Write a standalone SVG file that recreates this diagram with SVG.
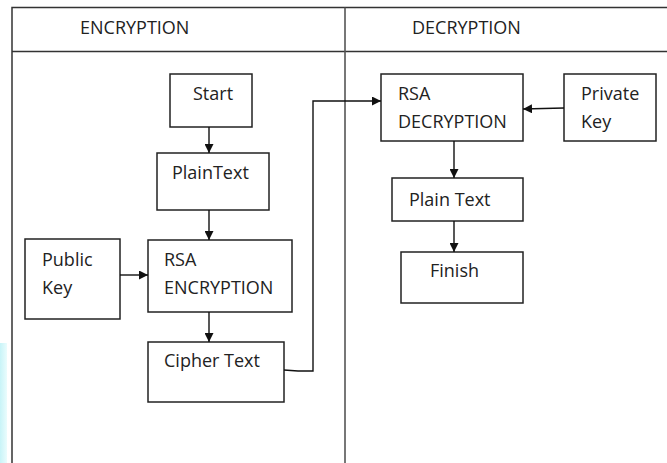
<svg xmlns="http://www.w3.org/2000/svg" width="667" height="463" viewBox="0 0 667 463">
<defs>
<style>
.frame{fill:none;stroke:#333;stroke-width:1.5}
.div{fill:none;stroke:#555;stroke-width:1.6}
.box{fill:#fff;stroke:#222;stroke-width:1.5}
.conn{fill:none;stroke:#111;stroke-width:1.4}
text{font-family:"Open Sans","Liberation Sans",sans-serif;font-size:18px;fill:#222}
</style>
<marker id="ah" viewBox="0 0 10 10" refX="10" refY="5" markerWidth="9" markerHeight="9" markerUnits="userSpaceOnUse" orient="auto">
<path d="M0,0 L10,5 L0,10 Z" fill="#111"/>
</marker>
<linearGradient id="cy" x1="0" y1="0" x2="1" y2="0">
<stop offset="0" stop-color="#c8f4f8"/>
<stop offset="1" stop-color="#eafcfd"/>
</linearGradient>
</defs>
<rect width="667" height="463" fill="#fff"/>
<rect x="0" y="343" width="7" height="120" fill="url(#cy)"/>
<g id="lanes">
<path class="frame" d="M12,463 V7.5 H667 M12,51.5 H667"/>
<path class="div" d="M345,7.5 V463"/>
<text x="80" y="34">ENCRYPTION</text>
<text x="412" y="34">DECRYPTION</text>
</g>
<g id="start"><rect class="box" x="170" y="74" width="82" height="53"/><text x="193" y="100">Start</text></g>
<g id="plaintext1"><rect class="box" x="157" y="153" width="112" height="57"/><text x="172" y="179">PlainText</text></g>
<g id="rsaenc"><rect class="box" x="148" y="240" width="144" height="72"/><text x="164" y="266">RSA</text><text x="164" y="294">ENCRYPTION</text></g>
<g id="pubkey"><rect class="box" x="25" y="239" width="95" height="80"/><text x="42" y="266">Public</text><text x="42" y="294">Key</text></g>
<g id="cipher"><rect class="box" x="148" y="342" width="136" height="60"/><text x="164" y="367">Cipher Text</text></g>
<g id="rsadec"><rect class="box" x="381" y="74" width="142" height="67"/><text x="398" y="100">RSA</text><text x="398" y="128">DECRYPTION</text></g>
<g id="privkey"><rect class="box" x="564" y="74" width="92" height="67"/><text x="581" y="100">Private</text><text x="581" y="128">Key</text></g>
<g id="plaintext2"><rect class="box" x="392" y="178" width="131" height="43"/><text x="409" y="206">Plain Text</text></g>
<g id="finish"><rect class="box" x="401" y="252" width="122" height="51"/><text x="430" y="277">Finish</text></g>
<g id="connectors">
<path class="conn" d="M209,127 V153" marker-end="url(#ah)"/>
<path class="conn" d="M209,210 V240" marker-end="url(#ah)"/>
<path class="conn" d="M120,275 H148" marker-end="url(#ah)"/>
<path class="conn" d="M209,312 V342" marker-end="url(#ah)"/>
<path class="conn" d="M284,370 L298,371 H313 V101 H381" marker-end="url(#ah)"/>
<path class="conn" d="M564,108 L523,109" marker-end="url(#ah)"/>
<path class="conn" d="M454,141 V178" marker-end="url(#ah)"/>
<path class="conn" d="M454,221 V252" marker-end="url(#ah)"/>
</g>
</svg>
